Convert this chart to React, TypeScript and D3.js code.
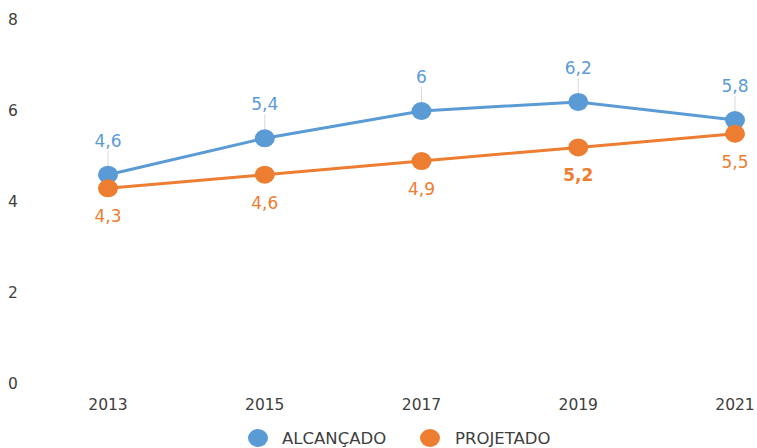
import React from 'react';
import * as d3 from 'd3';

const years = ['2013', '2015', '2017', '2019', '2021'];
const alcancado = [4.6, 5.4, 6, 6.2, 5.8];
const projetado = [4.3, 4.6, 4.9, 5.2, 5.5];
const yTicks = [0, 2, 4, 6, 8];
const boldProjetado = ['2019'];

const BLUE = '#5B9BD5';
const ORANGE = '#ED7D31';
const TEXT = '#404040';
const FONT = '"DejaVu Sans", "Open Sans", sans-serif';

const fmt = (v: number) => String(v).replace('.', ',');

export default function App() {
  const width = 757;
  const height = 448;

  const x = d3.scalePoint<string>().domain(years).range([108, 735]);
  const y = d3.scaleLinear().domain([0, 8]).range([384, 20]);

  const line = d3
    .line<number>()
    .x((_, i) => x(years[i]) as number)
    .y((d) => y(d));

  return (
    <svg
      width={width}
      height={height}
      style={{ position: 'absolute', left: 0, top: 0, background: '#fff' }}
      fontFamily={FONT}
    >
      {yTicks.map((t) => (
        <text key={t} x={13} y={y(t)} dy="0.35em" textAnchor="middle" fontSize={15.5} fill={TEXT}>
          {t}
        </text>
      ))}
      {years.map((yr) => (
        <text key={yr} x={x(yr)} y={405} dy="0.35em" textAnchor="middle" fontSize={15.5} fill={TEXT}>
          {yr}
        </text>
      ))}

      {/* leader lines for blue labels */}
      {alcancado.map((v, i) => (
        <line
          key={'ll' + i}
          x1={x(years[i])}
          x2={x(years[i])}
          y1={y(v) - 24}
          y2={y(v) - 8}
          stroke="#d9d9d9"
          strokeWidth={1}
        />
      ))}

      <path d={line(alcancado) || ''} fill="none" stroke={BLUE} strokeWidth={3} />
      <path d={line(projetado) || ''} fill="none" stroke={ORANGE} strokeWidth={3} />

      {alcancado.map((v, i) => (
        <ellipse key={'b' + i} cx={x(years[i])} cy={y(v)} rx={10} ry={9} fill={BLUE} />
      ))}
      {projetado.map((v, i) => (
        <ellipse key={'o' + i} cx={x(years[i])} cy={y(v)} rx={10} ry={9} fill={ORANGE} />
      ))}

      {alcancado.map((v, i) => (
        <text
          key={'bl' + i}
          x={x(years[i])}
          y={y(v) - 34}
          dy="0.35em"
          textAnchor="middle"
          fontSize={17}
          fill={BLUE}
        >
          {fmt(v)}
        </text>
      ))}
      {projetado.map((v, i) => (
        <text
          key={'ol' + i}
          x={x(years[i])}
          y={y(v) + 28}
          dy="0.35em"
          textAnchor="middle"
          fontSize={17}
          fontWeight={boldProjetado.includes(years[i]) ? 'bold' : 'normal'}
          fill={ORANGE}
        >
          {fmt(v)}
        </text>
      ))}

      {/* legend */}
      <ellipse cx={258} cy={438} rx={10} ry={9} fill={BLUE} />
      <text x={282} y={438} dy="0.35em" fontSize={16.5} fill={TEXT}>
        ALCANÇADO
      </text>
      <ellipse cx={430} cy={438} rx={10} ry={9} fill={ORANGE} />
      <text x={455} y={438} dy="0.35em" fontSize={16.5} fill={TEXT}>
        PROJETADO
      </text>
    </svg>
  );
}
